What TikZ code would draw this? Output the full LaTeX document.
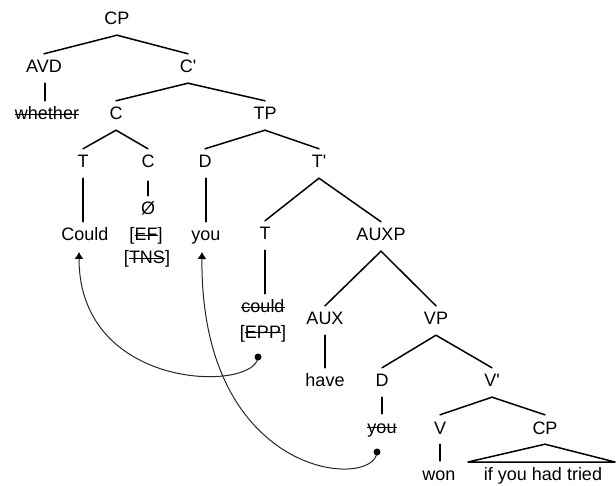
\documentclass[tikz,border=0pt]{standalone}
\usepackage{fontspec}
\setmainfont{Liberation Sans}
\usetikzlibrary{arrows.meta}
% struck-through text: a rule drawn across the word at about half x-height
\newcommand{\strikeword}[1]{\setbox0\hbox{#1}\rlap{\rule[0.5ex]{\wd0}{0.9pt}}\box0}
\begin{document}
\begin{tikzpicture}[x=1pt,y=-1pt,
  tn/.style={anchor=base, inner sep=0pt, inner ysep=6pt, text height=13pt, text depth=4pt,
             font=\fontsize{18}{20}\selectfont},
  edge/.style={line width=1.5pt, line cap=round},
  move/.style={line width=1pt, draw=black!85, -{Latex[length=7pt,width=9pt,black]}},
  trace/.style={circle, fill=black, inner sep=0pt, minimum size=7pt}]
\useasboundingbox (0,0) rectangle (616,486);

% labels, placed on their baselines
\node[tn] (cp)     at (117,25)  {CP};
\node[tn] (avd)    at (44,73)   {AVD};
\node[tn] (cbar)   at (188,73)  {C\textquotesingle};
\node[tn] (whether) at (47,120) {\strikeword{whether}};
\node[tn] (c)      at (116,120) {C};
\node[tn] (tp)     at (265,120) {TP};
\node[tn] (t1)     at (83,168)  {T};
\node[tn] (c2)     at (148,168) {C};
\node[tn] (d1)     at (205,168) {D};
\node[tn] (tbar)   at (319,168) {T\textquotesingle};
\node[tn] (null)   at (148,215) {Ø};
\node[tn] (could)  at (85,241)  {Could};
\node[tn] (ef)     at (146,241) {[\strikeword{EF}]};
\node[tn] (tns)    at (147,264) {[\strikeword{TNS}]};
\node[tn] (you1)   at (206,241) {you};
\node[tn] (t2)     at (265,240) {T};
\node[tn] (auxp)   at (381,241) {AUXP};
\node[tn] (could2) at (263,313) {\strikeword{could}};
\node[tn] (epp)    at (263,338) {[\strikeword{EPP}]};
\node[tn] (aux)    at (325,325) {AUX};
\node[tn] (vp)     at (436,325) {VP};
\node[tn] (have)   at (325,387) {have};
\node[tn] (d2)     at (382,387) {D};
\node[tn] (vbar)   at (492,387) {V\textquotesingle};
\node[tn] (you2)   at (382,433) {\strikeword{you}};
\node[tn] (v)      at (440,434) {V};
\node[tn] (cp2)    at (545,434) {CP};
\node[tn] (won)    at (439,480) {won};
\node[tn] (ifyou)  at (543,480) {if you had tried};

% branching edges
\draw[edge] (cp.south) -- (avd.north);
\draw[edge] (cp.south) -- (cbar.north);
\draw[edge] (cbar.south) -- (c.north);
\draw[edge] (cbar.south) -- (tp.north);
\draw[edge] (c.south) -- (t1.north);
\draw[edge] (c.south) -- (c2.north);
\draw[edge] (tp.south) -- (d1.north);
\draw[edge] (tp.south) -- (tbar.north);
\draw[edge] (tbar.south) -- (t2.north);
\draw[edge] (tbar.south) -- (auxp.north);
\draw[edge] (auxp.south) -- (aux.north);
\draw[edge] (auxp.south) -- (vp.north);
\draw[edge] (vp.south) -- (d2.north);
\draw[edge] (vp.south) -- (vbar.north);
\draw[edge] (vbar.south) -- (v.north);
\draw[edge] (vbar.south) -- (cp2.north);

% unary edges
\draw[edge] ([xshift=1pt]avd.south) -- ([xshift=1pt]avd.south |- whether.north);
\draw[edge] (t1.south) -- (t1.south |- could.north);
\draw[edge, shorten <=3pt] (c2.south) -- (c2.south |- null.north);
\draw[edge] ([xshift=1pt]d1.south) -- ([xshift=1pt]d1.south |- you1.north);
\draw[edge] (t2.south) -- (t2.south |- could2.north);
\draw[edge] (aux.south) -- (aux.south |- have.north);
\draw[edge] (d2.south) -- (d2.south |- you2.north);
\draw[edge] (v.south) -- (v.south |- won.north);

% triangle over the unanalysed CP
\coordinate (tl) at (468,462);
\coordinate (tr) at (615,462);
\draw[edge, line join=round] (tl) -- (cp2.south) -- (tr) -- cycle;

% movement arrows
\coordinate (dotA) at (258,357);
\coordinate (dotB) at (377,452);
\coordinate (tipA) at (79,252);
\coordinate (tipB) at (202,252);
\draw[move] (dotA) .. controls (256,392) and (79,392) .. (tipA);
\draw[move] (dotB) .. controls (375,490) and (200,480) .. (tipB);
\node[trace] (trA) at (dotA) {};
\node[trace] (trB) at (dotB) {};
\end{tikzpicture}
\end{document}
